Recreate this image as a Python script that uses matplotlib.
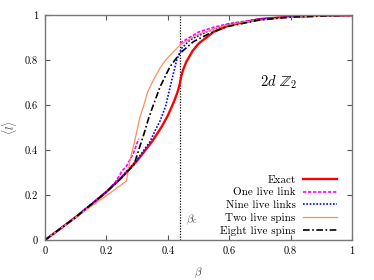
import numpy as np
import matplotlib
matplotlib.use('Agg')
import matplotlib.pyplot as plt

plt.rcParams['font.family'] = 'serif'
plt.rcParams['font.serif'] = ['cmr10']
plt.rcParams['mathtext.fontset'] = 'cm'
plt.rcParams['axes.formatter.use_mathtext'] = True

# exact 2d Z2 link expectation
beta_exact = [0, 0.05, 0.1, 0.15, 0.2, 0.25, 0.3, 0.35, 0.38, 0.4, 0.42, 0.43, 0.435,
              0.44, 0.4407, 0.445, 0.45, 0.46, 0.48, 0.5, 0.55, 0.6, 0.7, 0.8, 0.9, 1.0]
l_exact = [0, 0.050, 0.1017, 0.1558, 0.2139, 0.2787, 0.3522, 0.4402, 0.5034, 0.5528,
           0.6147, 0.651, 0.6725, 0.6999, 0.7071, 0.7344, 0.7566, 0.7911, 0.8389, 0.8727,
           0.9256, 0.9545, 0.9819, 0.9924, 0.9969, 0.9987]

# one live link (gap between the two branches)
beta_one = [0, 0.1, 0.2, 0.23, 0.25, 0.266, 0.288, 0.305, np.nan,
            0.44, 0.5, 0.55, 0.6, 0.7, 0.8, 1.0]
l_one = [0, 0.102, 0.216, 0.258, 0.305, 0.33, 0.385, 0.45, np.nan,
         0.875, 0.924, 0.946, 0.962, 0.982, 0.992, 0.999]

# nine live links
beta_nine = [0, 0.1, 0.2, 0.25, 0.3, 0.342, 0.36, 0.375, 0.393, 0.413, 0.429, 0.445,
             0.472, 0.527, 0.592, 0.7, 0.8, 1.0]
l_nine = [0, 0.102, 0.215, 0.28, 0.357, 0.437, 0.49, 0.53, 0.595, 0.711, 0.80, 0.852,
          0.889, 0.926, 0.956, 0.981, 0.992, 0.999]

# two live spins
beta_two = [0, 0.05, 0.1, 0.13, 0.2, 0.265, 0.277, 0.293, 0.309, 0.32, 0.335, 0.353,
            0.375, 0.396, 0.44, 0.494, 0.57, 0.65, 0.8, 1.0]
l_two = [0, 0.05, 0.1, 0.131, 0.197, 0.262, 0.356, 0.444, 0.545, 0.59, 0.66, 0.711,
         0.765, 0.805, 0.867, 0.911, 0.948, 0.97, 0.99, 0.999]

# eight live spins
beta_eight = [0, 0.1, 0.2, 0.25, 0.29, 0.31, 0.322, 0.335, 0.347, 0.375, 0.407, 0.44,
              0.483, 0.537, 0.592, 0.7, 0.8, 1.0]
l_eight = [0, 0.101, 0.213, 0.277, 0.335, 0.42, 0.47, 0.53, 0.578, 0.681, 0.77, 0.83,
           0.881, 0.919, 0.948, 0.978, 0.991, 0.999]

beta_c = 0.4407

fig = plt.figure(figsize=(3.74, 2.8), dpi=100)
ax = fig.add_axes([45/374, 40/280, 307/374, 225/280])

ax.axvline(beta_c, color='black', lw=0.9, ls=(0, (1, 1.2)))
ax.plot(beta_exact, l_exact, color='#ff0000', lw=1.7, label='Exact')
ax.plot(beta_one, l_one, color='#ff00ff', lw=1.2, ls=(0, (2, 1)), label='One live link')
ax.plot(beta_nine, l_nine, color='#0000ff', lw=1.2, ls=(0, (1, 1)), label='Nine live links')
ax.plot(beta_two, l_two, color='#ff8c5f', lw=0.9, label='Two live spins')
ax.plot(beta_eight, l_eight, color='black', lw=1.2, ls=(0, (4, 1.5, 1, 1.5)),
        label='Eight live spins')

ax.set_xlim(0, 1)
ax.set_ylim(0, 1)
ax.set_xticks([0, 0.2, 0.4, 0.6, 0.8, 1])
ax.set_yticks([0, 0.2, 0.4, 0.6, 0.8, 1])
ax.set_xticklabels(['0', '0.2', '0.4', '0.6', '0.8', '1'])
ax.set_yticklabels(['0', '0.2', '0.4', '0.6', '0.8', '1'])
ax.tick_params(direction='in', top=True, right=True, length=3.5, width=0.8,
               labelsize=7.5, color='#555555', pad=5)
for s in ax.spines.values():
    s.set_color('#777777')
    s.set_linewidth(1.0)

ax.set_xlabel(r'$\beta$', fontsize=8, color='#444444', labelpad=7)
ax.set_ylabel(r'$\langle l\rangle$', fontsize=8, color='#444444', labelpad=4)

ax.text(0.46, 0.089, r'$\beta_c$', fontsize=8, color='#444444', va='center')
ax.text(0.76, 0.70, r'$2d\ \mathbb{Z}_2$', fontsize=10.5, ha='center', va='center')

leg = ax.legend(loc='lower right', bbox_to_anchor=(0.95, 0.02), frameon=False,
                markerfirst=False, fontsize=8, handlelength=3.0, handletextpad=0.7,
                labelspacing=0.25, borderaxespad=0, borderpad=0)

fig.savefig('out.png', dpi=100)
